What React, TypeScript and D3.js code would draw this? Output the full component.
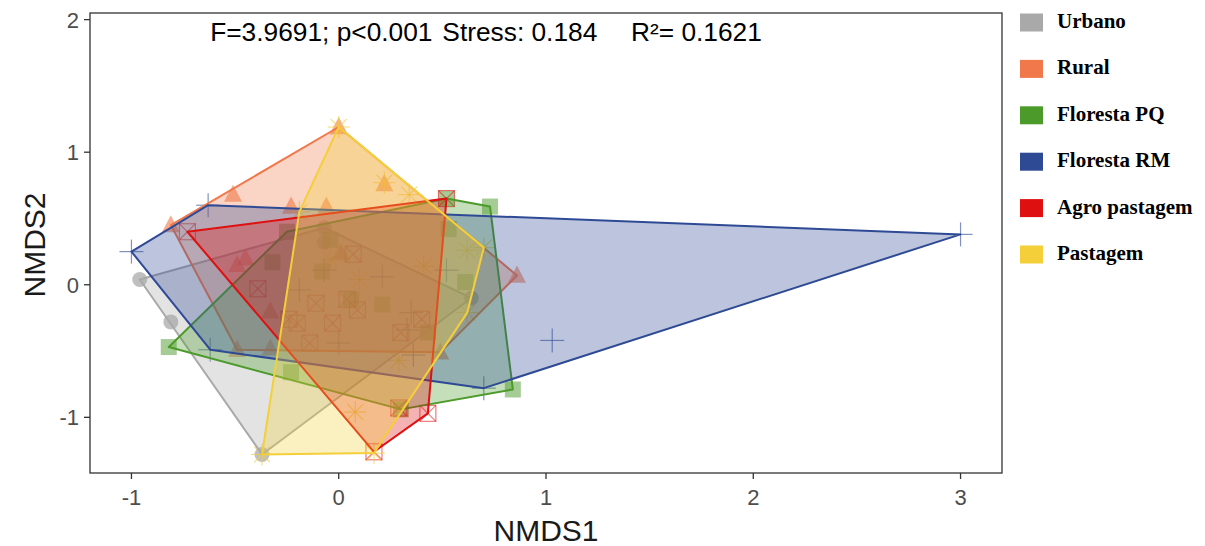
import React from "react";
import * as d3 from "d3";

const groups = ["Urbano", "Rural", "Floresta PQ", "Floresta RM", "Agro pastagem", "Pastagem"];
const colors = ["#A9A9A9", "#F0784A", "#4C9A2A", "#2E4A95", "#DF1010", "#F4CF3A"];
const shapes = ["circle", "triangle", "square", "plus", "squarex", "asterisk"];

const urbano: [number, number][] = [
  [-0.96, 0.04], [-0.81, -0.28], [-0.37, -1.28], [-0.07, 0.43], [-0.07, 0.32], [0.64, -0.1],
];
const rural: [number, number][] = [
  [-0.81, 0.45], [-0.51, 0.68], [-0.23, 0.59], [-0.06, 0.59], [0.0, 1.19], [0.22, 0.76],
  [-0.45, 0.2], [-0.49, 0.15], [0.01, 0.24], [0.86, 0.07], [0.49, -0.51], [-0.49, -0.49],
  [-0.33, -0.48], [-0.33, -0.2],
];
const florestaPQ: [number, number][] = [
  [-0.82, -0.47], [0.52, 0.65], [0.73, 0.59], [0.84, -0.79], [0.3, -0.94], [-0.23, -0.66],
  [0.53, 0.42], [0.61, 0.02], [0.21, -0.15], [-0.25, 0.4], [-0.32, 0.17], [-0.08, 0.1],
  [0.06, -0.11], [0.43, -0.36], [-0.04, 0.34],
];
const florestaRM: [number, number][] = [
  [-1.0, 0.25], [-0.63, 0.6], [3.0, 0.38], [1.03, -0.42], [0.7, -0.78], [-0.62, -0.49],
  [-0.07, 0.11], [0.21, 0.06], [0.52, 0.11], [0.0, -0.44], [0.36, -0.53], [0.35, -0.21],
  [-0.19, -0.04], [0.33, -0.34],
];
const agroPastagem: [number, number][] = [
  [-0.73, 0.4], [0.52, 0.65], [0.43, -0.97], [0.17, -1.26], [-0.39, -0.03], [-0.11, -0.14],
  [-0.2, -0.29], [-0.03, -0.29], [-0.14, -0.44], [0.04, -0.11], [0.09, -0.19], [0.3, -0.36],
  [0.4, -0.26], [0.07, 0.23], [-0.24, -0.26], [0.29, -0.93],
];
const pastagem: [number, number][] = [
  [0.0, 1.19], [0.22, 0.77], [0.7, 0.28], [0.62, -0.21], [0.17, -1.27], [-0.37, -1.28],
  [-0.19, 0.55], [0.62, 0.26], [0.08, -0.96], [0.34, 0.68], [0.41, 0.14], [0.1, 0.04],
  [-0.04, 0.19], [0.29, -0.57],
];
const seriesData = [urbano, rural, florestaPQ, florestaRM, agroPastagem, pastagem];

const xTicks = [-1, 0, 1, 2, 3];
const yTicks = [-1, 0, 1, 2];
const annotations = ["F=3.9691; p<0.001", "Stress: 0.184", "R²= 0.1621"];
const annotationX = [-0.62, 0.5, 1.41];

const W = 1205;
const H = 546;
const panel = { left: 90, right: 1002, top: 13, bottom: 473 };

function Marker({ shape, cx, cy, color }: { shape: string; cx: number; cy: number; color: string }) {
  const s = 8;
  switch (shape) {
    case "circle":
      return <circle cx={cx} cy={cy} r={7.5} fill={color} fillOpacity={0.75} />;
    case "triangle": {
      const h = 16;
      const pts = `${cx},${cy - h * 0.62} ${cx - 9},${cy + h * 0.45} ${cx + 9},${cy + h * 0.45}`;
      return <polygon points={pts} fill={color} fillOpacity={0.6} />;
    }
    case "square":
      return <rect x={cx - s} y={cy - s} width={2 * s} height={2 * s} fill={color} fillOpacity={0.5} />;
    case "plus": {
      const a = 12;
      return (
        <g stroke={color} strokeOpacity={0.6} strokeWidth={1.2}>
          <line x1={cx - a} y1={cy} x2={cx + a} y2={cy} />
          <line x1={cx} y1={cy - a} x2={cx} y2={cy + a} />
        </g>
      );
    }
    case "squarex":
      return (
        <g stroke={color} strokeOpacity={0.55} strokeWidth={1.2} fill="none">
          <rect x={cx - s} y={cy - s} width={2 * s} height={2 * s} />
          <line x1={cx - s} y1={cy - s} x2={cx + s} y2={cy + s} />
          <line x1={cx - s} y1={cy + s} x2={cx + s} y2={cy - s} />
        </g>
      );
    case "asterisk": {
      const a = 11;
      const b = a * 0.72;
      return (
        <g stroke={color} strokeOpacity={0.7} strokeWidth={1.1}>
          <line x1={cx - a} y1={cy} x2={cx + a} y2={cy} />
          <line x1={cx} y1={cy - a} x2={cx} y2={cy + a} />
          <line x1={cx - b} y1={cy - b} x2={cx + b} y2={cy + b} />
          <line x1={cx - b} y1={cy + b} x2={cx + b} y2={cy - b} />
        </g>
      );
    }
    default:
      return null;
  }
}

export default function App() {
  const x = d3.scaleLinear().domain([-1.2, 3.2]).range([panel.left, panel.right]);
  const y = d3.scaleLinear().domain([-1.42, 2.05]).range([panel.bottom, panel.top]);

  const projected = seriesData.map((arr) => arr.map(([a, b]) => [x(a), y(b)] as [number, number]));
  const hulls = projected.map((pts) => d3.polygonHull(pts) || pts);
  const line = d3.line();

  const sans = "'Liberation Sans', Arial, sans-serif";
  const serif = "'Liberation Serif', 'Times New Roman', serif";

  return (
    <svg width={W} height={H} style={{ position: "absolute", left: 0, top: 0, background: "#fff" }}>
      <rect x={0} y={0} width={W} height={H} fill="#fff" />
      <defs>
        <clipPath id="panelClip">
          <rect x={panel.left} y={panel.top} width={panel.right - panel.left} height={panel.bottom - panel.top} />
        </clipPath>
      </defs>
      <g clipPath="url(#panelClip)">
        {projected.map((pts, gi) =>
          pts.map((p, i) => (
            <Marker key={`${gi}-${i}`} shape={shapes[gi]} cx={p[0]} cy={p[1]} color={colors[gi]} />
          ))
        )}
        {hulls.map((h, gi) => (
          <path
            key={`h${gi}`}
            d={(line(h as [number, number][]) || "") + "Z"}
            fill={colors[gi]}
            fillOpacity={0.32}
            stroke={colors[gi]}
            strokeWidth={2}
            strokeLinejoin="round"
          />
        ))}
      </g>
      <rect
        x={panel.left}
        y={panel.top}
        width={panel.right - panel.left}
        height={panel.bottom - panel.top}
        fill="none"
        stroke="#333"
        strokeWidth={1.3}
      />
      {annotations.map((t, i) => (
        <text key={t} x={x(annotationX[i])} y={41} fontFamily={sans} fontSize={26.3} fill="#000">
          {t}
        </text>
      ))}
      {xTicks.map((t) => (
        <g key={`xt${t}`}>
          <line x1={x(t)} x2={x(t)} y1={panel.bottom} y2={panel.bottom + 6} stroke="#333" strokeWidth={1.3} />
          <text x={x(t)} y={505} textAnchor="middle" fontFamily={sans} fontSize={22} fill="#4D4D4D">
            {t}
          </text>
        </g>
      ))}
      {yTicks.map((t) => (
        <g key={`yt${t}`}>
          <line x1={panel.left - 6} x2={panel.left} y1={y(t)} y2={y(t)} stroke="#333" strokeWidth={1.3} />
          <text x={79} y={y(t) + 8} textAnchor="end" fontFamily={sans} fontSize={22} fill="#4D4D4D">
            {t}
          </text>
        </g>
      ))}
      <text x={x(1)} y={541} textAnchor="middle" fontFamily={sans} fontSize={30} fill="#1a1a1a">
        NMDS1
      </text>
      <text
        transform={`translate(45, ${(panel.top + panel.bottom) / 2 + 2}) rotate(-90)`}
        textAnchor="middle"
        fontFamily={sans}
        fontSize={30}
        fill="#1a1a1a"
      >
        NMDS2
      </text>
      {groups.map((g, i) => {
        const cy = 22.5 + i * 46.4;
        return (
          <g key={g}>
            <rect x={1020} y={cy - 9} width={23} height={18} fill={colors[i]} />
            <text x={1057} y={cy + 5.5} fontFamily={serif} fontWeight="bold" fontSize={21} fill="#000">
              {g}
            </text>
          </g>
        );
      })}
    </svg>
  );
}
